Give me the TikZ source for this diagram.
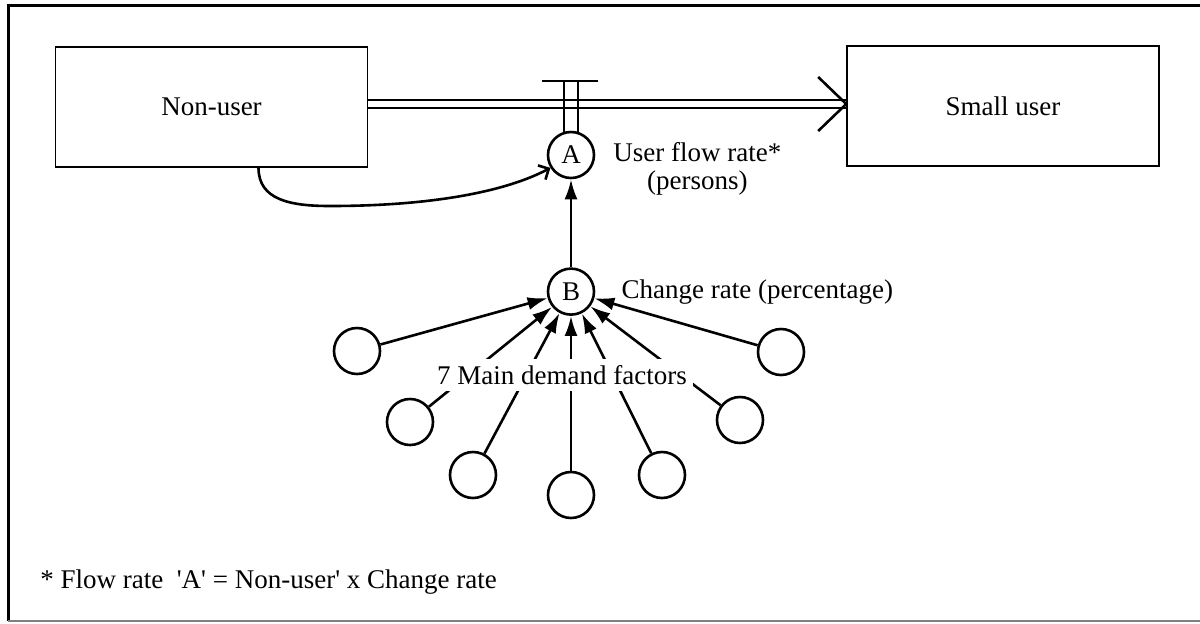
\documentclass[tikz,border=0pt]{standalone}
\usepackage{fontspec}
\setmainfont{Liberation Serif}
\usetikzlibrary{arrows.meta,positioning,calc}

\begin{document}
\begin{tikzpicture}[x=0.5pt,y=-0.5pt,
    font=\fontsize{13.5}{14}\selectfont,
    sdstock/.style={draw,line width=0.8pt,minimum width=156pt,minimum height=60pt,inner sep=0pt},
    sdaux/.style={circle,draw,line width=1.3pt,minimum size=23pt,inner sep=0pt},
    sdline/.style={line width=1.3pt},
    sdarrow/.style={-{Latex[length=10pt,width=6.5pt]},line width=1.3pt},
    sdlink/.style={-{Straight Barb[length=4pt,width=8pt]},line width=1.3pt},
    sdpipe/.style={double,double distance=2.8pt,line width=1.3pt},
    sdlabel/.style={inner sep=2pt,align=center}
]
\useasboundingbox (0,0) rectangle (1200,623);
% frame
\draw[line width=1.5pt] (8,621) -- (8,5) -- (1200,5);
\draw[black!50,line width=1pt] (8,621) -- (1200,621);

% stocks and the flow pipe
\node[sdstock] (nonuser) at (211.5,107) {Non-user};
\node[sdstock] (smalluser) at (1003,106) {Small user};
\coordinate (pipe) at (0,104);
\coordinate (pipeend) at (smalluser.west |- pipe);
\draw[sdpipe] (nonuser.east |- pipe) -- (pipeend);
\draw[sdline] ($(pipeend)+(-28,-27)$) -- (pipeend) -- ($(pipeend)+(-28,27)$);

% valve and flow rate A
\node[sdaux] (A) at (571,155) {A};
\coordinate (valvetop) at (570,81);
\draw[sdline] ([xshift=-14pt]valvetop) -- ([xshift=14pt]valvetop);
\draw[sdline] (A.107) -- (A.107 |- valvetop);
\draw[sdline] (A.73) -- (A.73 |- valvetop);
\node[sdlabel,anchor=west] (flowlabel) at (609,169) {User flow rate*\\(persons)};

% information link from the stock
\coordinate (bend) at (330,206);
\draw[sdlink] ([xshift=23.5pt]nonuser.south) .. controls +(0,32) and (290,206) .. (bend)
    .. controls (430,206) and (505,192) .. (A.212);

% change rate B
\node[sdaux,below=44pt of A] (B) {B};
\node[sdlabel,right=11pt of B] (ratelabel) {Change rate (percentage)};
\draw[sdarrow] (B) -- (A);

% demand factors
\node[sdaux] (fac1) at (357,351) {};
\node[sdaux] (fac2) at (781,352) {};
\node[sdaux] (fac3) at (410,422) {};
\node[sdaux] (fac4) at (473,475) {};
\node[sdaux] (fac5) at (571,495) {};
\node[sdaux] (fac6) at (662,475) {};
\node[sdaux] (fac7) at (740,420) {};
\draw[sdarrow] (fac1) -- (B);
\draw[sdarrow] (fac2) -- (B);
\draw[sdarrow] (fac3) -- (B);
\draw[sdarrow] (fac4) -- (B);
\draw[sdarrow] (fac5) -- (B);
\draw[sdarrow] (fac6) -- (B);
\draw[sdarrow] (fac7) -- (B);
\node[fill=white,inner sep=3pt] (factors) at (562,375) {7 Main demand factors};

% footnote
\node[anchor=west,inner sep=0pt] (note) at (40,582)
    {* Flow rate\ \ \textquotesingle A\textquotesingle{} = Non-user\textquotesingle{} x Change rate};
\end{tikzpicture}
\end{document}
